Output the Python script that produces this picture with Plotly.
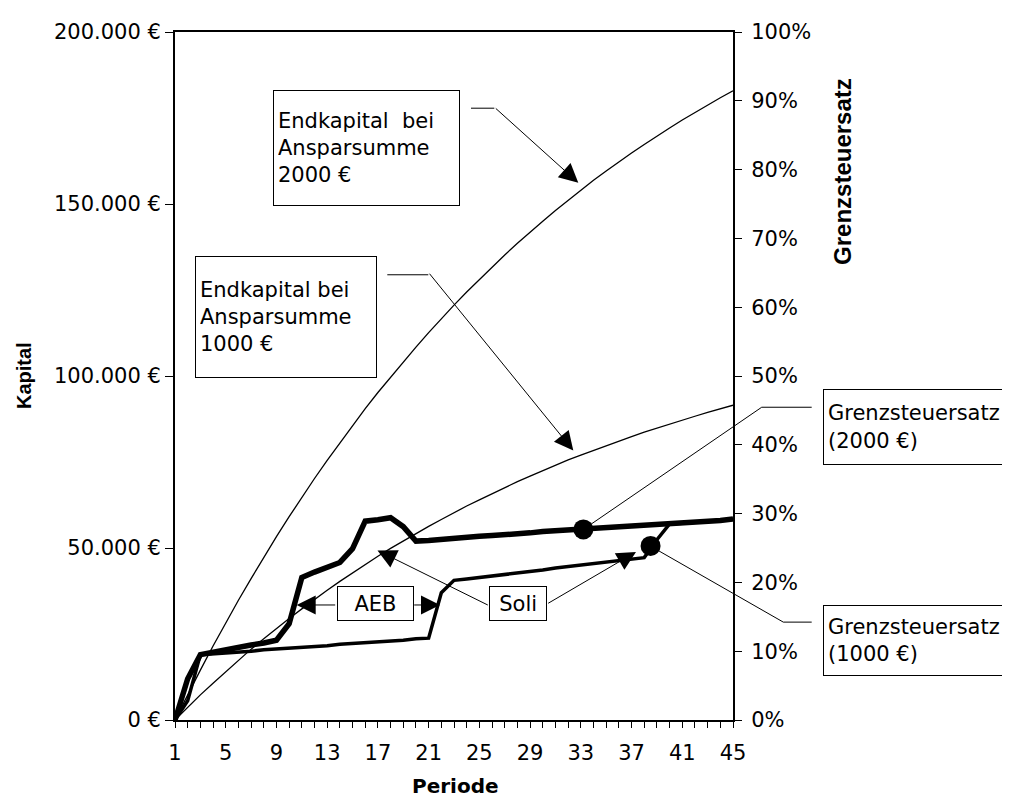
import plotly.graph_objects as go

# ---------------- data ----------------
periods = list(range(1, 46))

endkapital_2000 = [0, 7400, 14500, 21500, 28200, 34800, 41100, 47300, 53300, 59100,
                   64700, 70200, 75500, 80600, 85600, 90500, 95200, 99700, 104200, 108400,
                   112600, 116700, 120600, 124400, 128100, 131700, 135200, 138600, 141900, 145000,
                   148100, 151100, 154000, 156900, 159600, 162300, 164800, 167300, 169800, 172100,
                   174400, 176600, 178800, 180900, 182900]

endkapital_1000 = [0, 3700, 7300, 10700, 14100, 17400, 20600, 23600, 26600, 29500,
                   32300, 35100, 37700, 40300, 42800, 45200, 47600, 49900, 52100, 54200,
                   56300, 58300, 60300, 62200, 64000, 65800, 67600, 69300, 70900, 72500,
                   74100, 75600, 77000, 78400, 79800, 81100, 82400, 83700, 84900, 86100,
                   87200, 88300, 89400, 90400, 91500]

grenzsteuersatz_2000 = [0.000, 0.060, 0.095, 0.099, 0.102, 0.106, 0.109, 0.112, 0.116, 0.140,
                        0.207, 0.215, 0.222, 0.229, 0.249, 0.289, 0.291, 0.294, 0.281, 0.260,
                        0.261, 0.263, 0.264, 0.266, 0.267, 0.268, 0.270, 0.271, 0.272, 0.274,
                        0.275, 0.276, 0.277, 0.278, 0.279, 0.280, 0.281, 0.283, 0.284, 0.285,
                        0.286, 0.288, 0.289, 0.290, 0.292]

grenzsteuersatz_1000 = [0.000, 0.028, 0.095, 0.096, 0.098, 0.099, 0.100, 0.102, 0.103, 0.104,
                        0.106, 0.107, 0.108, 0.110, 0.111, 0.112, 0.114, 0.115, 0.116, 0.118,
                        0.119, 0.185, 0.203, 0.205, 0.207, 0.210, 0.212, 0.214, 0.216, 0.218,
                        0.221, 0.223, 0.225, 0.227, 0.229, 0.232, 0.234, 0.236, 0.262, 0.285,
                        0.286, 0.288, 0.289, 0.290, 0.292]

# callout dots (period, rate) for the two Grenzsteuersatz labels
callout_periods = [33.2, 38.5]
callout_rates = [0.277, 0.253]

x_tick_vals = list(range(1, 46, 4))
x_tick_text = [str(v) for v in x_tick_vals]
y_tick_vals = [0, 50000, 100000, 150000, 200000]
y_tick_text = ["0 €", "50.000 €", "100.000 €", "150.000 €", "200.000 €"]
y2_tick_vals = [i / 10 for i in range(11)]
y2_tick_text = [f"{i*10}%" for i in range(11)]

# ---------------- layout geometry (page pixels) ----------------
BODY = 8                      # default page margin of the html body
L, T, W, H = 175, 22, 558, 698
FIG_W, FIG_H = 1010 - BODY, 807 - BODY


def px(x):
    return (x - L) / W


def py(y):
    return (T + H - y) / H


FONT = "DejaVu Sans"
FS = 21

fig = go.Figure()

fig.add_trace(go.Scatter(x=periods, y=endkapital_2000, mode="lines",
                         line=dict(color="black", width=1.3), yaxis="y",
                         name="Endkapital 2000 €", showlegend=False))
fig.add_trace(go.Scatter(x=periods, y=endkapital_1000, mode="lines",
                         line=dict(color="black", width=1.3), yaxis="y",
                         name="Endkapital 1000 €", showlegend=False))
fig.add_trace(go.Scatter(x=periods, y=grenzsteuersatz_1000, mode="lines",
                         line=dict(color="black", width=3.5), yaxis="y2",
                         name="Grenzsteuersatz 1000 €", showlegend=False))
fig.add_trace(go.Scatter(x=periods, y=grenzsteuersatz_2000, mode="lines",
                         line=dict(color="black", width=5.5), yaxis="y2",
                         name="Grenzsteuersatz 2000 €", showlegend=False))
fig.add_trace(go.Scatter(x=callout_periods, y=callout_rates, mode="markers",
                         marker=dict(color="black", size=20), yaxis="y2",
                         showlegend=False, cliponaxis=False))

axis_common = dict(showgrid=False, zeroline=False, color="black",
                   tickfont=dict(family=FONT, size=FS, color="black"))

fig.update_layout(
    width=FIG_W, height=FIG_H,
    margin=dict(l=L - BODY, r=FIG_W - (L - BODY) - W, t=T - BODY,
                b=FIG_H - (T - BODY) - H, pad=0),
    paper_bgcolor="white", plot_bgcolor="white",
    font=dict(family=FONT, size=FS, color="black"),
    xaxis=dict(range=[1, 45], tickvals=x_tick_vals, ticktext=x_tick_text,
               ticks="outside", ticklen=6, tickwidth=1, tickcolor="black",
               ticklabelstandoff=7,
               showline=True, linewidth=2, linecolor="black", mirror=True,
               minor=dict(dtick=1, tick0=1, ticks="outside", ticklen=6,
                          tickwidth=1, tickcolor="black", showgrid=False),
               **axis_common),
    yaxis=dict(range=[0, 200000], tickvals=y_tick_vals, ticktext=y_tick_text,
               ticks="outside", ticklen=8, tickwidth=1, tickcolor="black",
               showline=True, linewidth=2, linecolor="black", **axis_common),
    yaxis2=dict(range=[0, 1], overlaying="y", side="right", anchor="x",
                tickvals=y2_tick_vals, ticktext=y2_tick_text,
                ticks="outside", ticklen=7, tickwidth=1, tickcolor="black",
                ticklabelstandoff=5,
                showline=True, linewidth=2, linecolor="black", **axis_common),
    yaxis3=dict(range=[0, 1], overlaying="y", side="right", anchor="x",
                tickvals=y2_tick_vals, showticklabels=False,
                ticks="inside", ticklen=7, tickwidth=1, tickcolor="black",
                showline=False, showgrid=False, zeroline=False),
)

annotations = []

# axis titles
annotations.append(dict(text="<b>Kapital</b>", x=px(24), y=py(371), xref="paper", yref="paper",
                        xanchor="center", yanchor="middle",
                        showarrow=False, textangle=-90,
                        font=dict(family="Liberation Sans", size=20, color="black")))
annotations.append(dict(text="<b>Grenzsteuersatz</b>", x=px(843), y=py(164), xref="paper", yref="paper",
                        xanchor="center", yanchor="middle",
                        showarrow=False, textangle=-90,
                        font=dict(family="Liberation Sans", size=24, color="black")))
annotations.append(dict(text="<b>Periode</b>", x=px(455), y=py(787), xref="paper", yref="paper",
                        xanchor="center", yanchor="middle",
                        showarrow=False, font=dict(family=FONT, size=20, color="black")))


def box(text, left, top, w, h, align="left", size=21):
    annotations.append(dict(text=text, x=px(left), y=py(top), xref="paper", yref="paper",
                            xanchor="left", yanchor="top", showarrow=False, align=align,
                            width=w - 9, height=h - 9, borderpad=4, borderwidth=1,
                            bordercolor="black", bgcolor="white",
                            font=dict(family=FONT, size=size, color="black")))


box("Endkapital\u00a0 bei<br>Ansparsumme<br>2000 €", 272.7, 81, 186, 115)
box("Endkapital bei<br>Ansparsumme<br>1000 €", 195, 249, 181, 121)
box("Grenzsteuersatz<br>(2000 €)", 823.3, 384, 200, 75)
box("Grenzsteuersatz<br>(1000 €)", 823.3, 603.3, 200, 70)
box("AEB", 336.7, 584.3, 76, 34, align="center")
box("Soli", 489.3, 584.3, 57.4, 34, align="center")


def arrow(tail, tip):
    annotations.append(dict(text="", x=px(tip[0]), y=py(tip[1]), xref="paper", yref="paper",
                            ax=tail[0] - tip[0], ay=tail[1] - tip[1], axref="pixel", ayref="pixel",
                            showarrow=True, arrowhead=2, arrowsize=3.8, arrowwidth=1,
                            arrowcolor="black", standoff=0, startstandoff=0))


arrow((494.3, 99.3), (578.3, 175))
arrow((428.3, 268.3), (573.3, 446.7))
arrow((336.7, 603.3), (296.7, 603.3))
arrow((412.7, 603.3), (440, 603.3))
arrow((489.3, 603.3), (377.5, 548))
arrow((546.7, 601.7), (636, 549.5))

shapes = []


def seg(p0, p1):
    shapes.append(dict(type="line", xref="paper", yref="paper",
                       x0=px(p0[0]), y0=py(p0[1]), x1=px(p1[0]), y1=py(p1[1]),
                       line=dict(color="black", width=1)))


seg((471, 99.3), (494.3, 99.3))
seg((387.3, 268.3), (428.3, 268.3))
seg((811.7, 402.7), (761.7, 402.7))
seg((761.7, 402.7), (583.3, 526.7))
seg((811.7, 620.7), (783.3, 620.7))
seg((783.3, 620.7), (650, 543.3))

fig.update_layout(annotations=annotations, shapes=shapes)

fig.write_html("out.html")
